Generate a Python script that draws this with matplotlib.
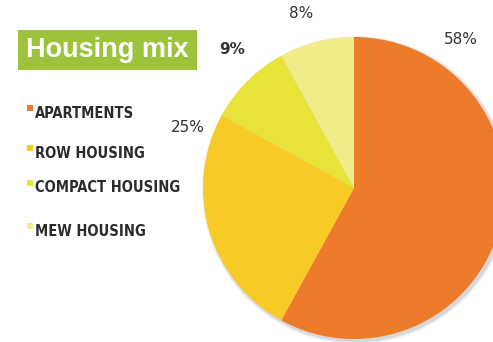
import matplotlib.pyplot as plt
from matplotlib.patches import Rectangle, Circle

categories = ["APARTMENTS", "ROW HOUSING", "COMPACT HOUSING", "MEW HOUSING"]
shares = [58, 25, 9, 8]
colors = ["#EE7B2A", "#F8CA25", "#E8E338", "#F1EC8A"]
pct_labels = ["58%", "25%", "9%", "8%"]

W, H = 493, 342
fig = plt.figure(figsize=(W / 100, H / 100), dpi=100)
ax = fig.add_axes([0, 0, 1, 1])

# pie, in pixel-ish coords (y measured from bottom)
cx, cy, r = 354, H - 188, 151

# soft shadow behind pie
for i, a in enumerate([0.05, 0.05, 0.06]):
    ax.add_patch(Circle((cx + 2, cy - 2), r + 3 - i, color="#000000", alpha=a, lw=0, zorder=1))

ax.pie(shares, colors=colors, startangle=90, counterclock=False,
       center=(cx, cy), radius=r, frame=True,
       wedgeprops=dict(linewidth=0, zorder=2))
ax.set_xlim(0, W)
ax.set_ylim(0, H)
ax.set_aspect("equal")
ax.axis("off")

# percentage labels
label_pos = [(461, 40), (188, 127), (232, 50), (301, 14)]
weights = ["normal", "normal", "bold", "normal"]
for txt, (x, y), w in zip(pct_labels, label_pos, weights):
    ax.text(x, H - y, txt, ha="center", va="center", fontsize=11,
            color="#333333", fontweight=w, family="DejaVu Sans", zorder=5)

# title box
ax.add_patch(Rectangle((18, H - 70), 179, 40, color="#9DC23B", lw=0, zorder=4))
ax.text(107, H - 50, "Housing mix", ha="center", va="center", fontsize=19.5,
        fontweight="bold", color="white", family="Liberation Sans", zorder=5)

# legend
leg_y = [113, 153, 188, 231]
for name, col, y in zip(categories, colors, leg_y):
    ax.add_patch(Rectangle((27, H - y + 2), 6, 6, color=col, lw=0, zorder=4))
    ax.text(35, H - y, name, ha="left", va="center", fontsize=10.5,
            color="#2b2b2b", fontstretch="condensed", fontweight="semibold",
            family="DejaVu Sans", zorder=5)

fig.savefig("out.png", dpi=100)
